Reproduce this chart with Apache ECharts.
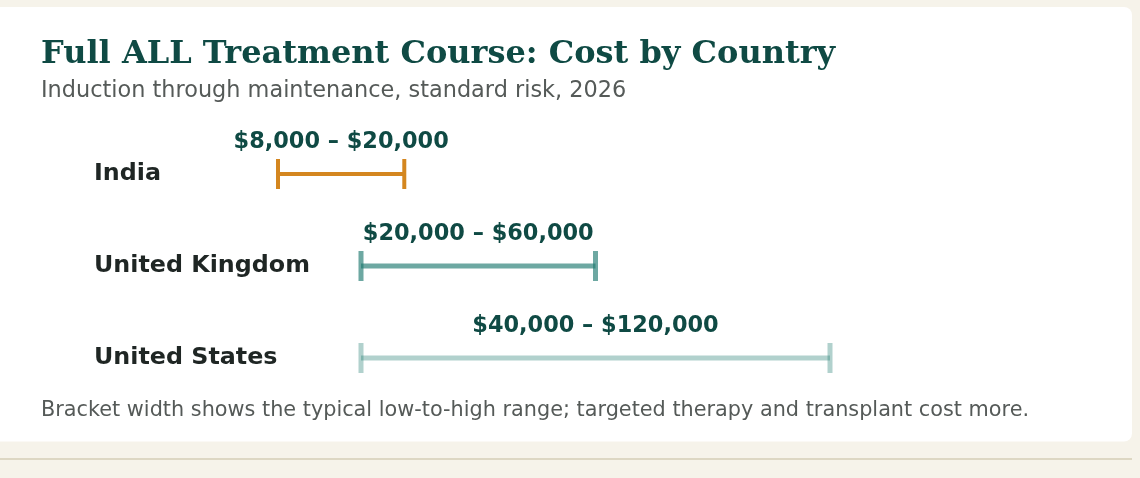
<!DOCTYPE html>
<html>
<head>
<meta charset="utf-8">
<script src="https://cdn.jsdelivr.net/npm/echarts@6/dist/echarts.min.js"></script>
<style>
  html, body { margin: 0; padding: 0; background: #f6f3ea; }
  #chart { width: 1140px; height: 478px; }
</style>
</head>
<body>
<div id="chart"></div>
<script>
(function() {
  'use strict';

  var countries = ['India', 'United Kingdom', 'United States'];
  var lowCost = [8000, 20000, 40000];
  var highCost = [20000, 60000, 120000];

  var colorTitle = '#0f4a44';
  var colorText = '#1f2624';
  var colorMuted = '#555a58';
  var rowColors = ['#d4861f', '#1f7a70', '#1f7a70'];
  var rowOpacity = [1, 0.65, 0.35];

  function money(v) {
    return '$' + v.toLocaleString('en-US');
  }

  function renderBracket(params, api) {
    var row = api.value(2);
    var a = api.coord([api.value(0), row]);
    var b = api.coord([api.value(1), row]);
    var i = params.seriesIndex;
    var color = rowColors[i];
    var op = rowOpacity[i];
    var capH = 30, capW = i === 0 ? 4 : 5;
    return {
      type: 'group',
      children: [
        { type: 'line', shape: { x1: a[0], y1: a[1], x2: b[0], y2: b[1] },
          style: { stroke: color, lineWidth: i === 0 ? 4 : 5, opacity: op } },
        { type: 'rect', shape: { x: a[0] - capW / 2, y: a[1] - capH / 2, width: capW, height: capH },
          style: { fill: color, opacity: op } },
        { type: 'rect', shape: { x: b[0] - capW / 2, y: b[1] - capH / 2, width: capW, height: capH },
          style: { fill: color, opacity: op } },
        { type: 'text', x: (a[0] + b[0]) / 2, y: a[1] - 31.5,
          style: { text: money(api.value(0)) + ' \u2013 ' + money(api.value(1)),
            fill: colorTitle, font: 'bold 22.4px "DejaVu Sans"', align: 'center', verticalAlign: 'middle' } }
      ]
    };
  }

  var series = countries.map(function(name, i) {
    return {
      name: name,
      type: 'custom',
      xAxisIndex: i,
      yAxisIndex: 0,
      renderItem: renderBracket,
      encode: { x: [0, 1], y: 2 },
      data: [[lowCost[i], highCost[i], i]]
    };
  });

  var chart = echarts.init(document.getElementById('chart'));
  chart.setOption({
    backgroundColor: '#f6f3ea',
    animation: false,
    graphic: [
      { type: 'rect', z: -10, shape: { x: -12, y: 7, width: 1144, height: 434.5, r: 8 }, style: { fill: '#ffffff' } },
      { type: 'rect', z: -10, shape: { x: 0, y: 458, width: 1132, height: 2 }, style: { fill: '#ddd7c3' } },
      { type: 'text', left: 41, top: 38.5, z: 10,
        style: { text: 'Full ALL Treatment Course: Cost by Country', fill: colorTitle,
          font: 'bold 32px "DejaVu Serif"' } },
      { type: 'text', left: 41, top: 80.5, z: 10,
        style: { text: 'Induction through maintenance, standard risk, 2026', fill: colorMuted,
          font: '22.4px "DejaVu Sans"' } },
      { type: 'text', left: 41, top: 400, z: 10,
        style: { text: 'Bracket width shows the typical low-to-high range; targeted therapy and transplant cost more.',
          fill: colorMuted, font: '20.8px "DejaVu Sans"' } }
    ],
    grid: { left: 126.5, right: 192.75, top: 128, bottom: 74 },
    xAxis: [
      { type: 'value', show: false, min: -6400, max: 71600 },
      { type: 'value', show: false, min: -20000, max: 120000 },
      { type: 'value', show: false, min: 0, max: 140000 }
    ],
    yAxis: {
      type: 'category',
      inverse: true,
      data: countries,
      axisLine: { show: false },
      axisTick: { show: false },
      splitLine: { show: false },
      axisLabel: { align: 'left', margin: 32.5, color: colorText, fontWeight: 'bold', fontSize: 23.8,
        fontFamily: 'DejaVu Sans', padding: [7, 0, 0, 0] }
    },
    series: series
  });
})();
</script>
</body>
</html>
